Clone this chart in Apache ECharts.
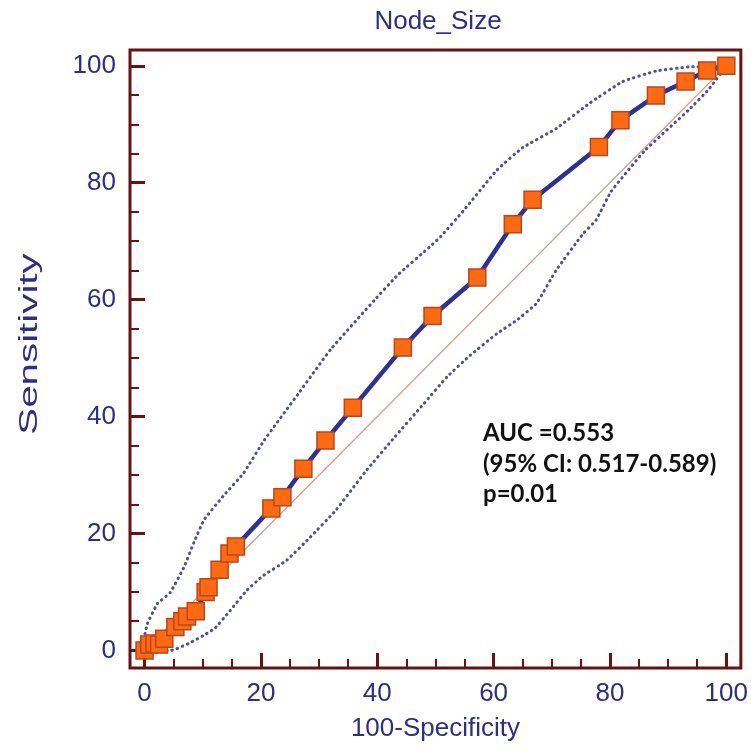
<!DOCTYPE html>
<html>
<head>
<meta charset="utf-8">
<script src="https://cdn.jsdelivr.net/npm/echarts@6/dist/echarts.min.js"></script>
<style>html,body{margin:0;padding:0;background:#fff;}#c{width:751px;height:751px;}</style>
</head>
<body>
<div id="c"></div>
<script>
// ROC curve points [100-Specificity, Sensitivity]
const rocPoints = [[0,0],[0.8,1.0],[1.7,1.2],[2.5,1.0],[3.4,2.0],[5.3,4.0],[6.5,5.0],[7.3,5.8],[8.8,6.7],[10.5,10.0],[11.0,10.8],[12.9,13.8],[14.6,16.6],[15.7,17.8],[21.8,24.3],[23.7,26.2],[27.3,31.1],[31.1,35.9],[35.8,41.5],[44.4,51.8],[49.5,57.2],[57.2,63.8],[63.3,72.9],[66.7,77.1],[78.1,86.1],[81.8,90.7],[87.9,94.9],[93.0,97.3],[96.7,99.2],[100,100]];
// Upper 95% confidence bound
const upperCI = [[0,0],[0,2.3],[0.5,4.6],[2.2,8.0],[4.4,9.9],[6.8,14.3],[8.5,18.5],[10.2,22.3],[13.6,26.5],[17.0,30.3],[20.6,36.0],[26.5,44.0],[32.0,51.5],[39.5,59.9],[43.5,64.2],[49.1,69.1],[50.9,70.8],[54.9,75.3],[60.6,82.2],[65.0,86.0],[70.8,89.3],[76.5,93.6],[82.2,97.3],[87.9,99.1],[93.5,99.8],[99.3,99.9],[100,100]];
// Lower 95% confidence bound
const lowerCI = [[0,0],[2.0,0],[4.5,0],[5.3,0.2],[7.8,1.3],[10.0,2.5],[12.1,3.8],[14.7,6.8],[17.6,10.3],[20.4,12.8],[24.4,15.4],[28.3,19.2],[32.9,24.0],[37.9,30.5],[43.0,36.5],[48.0,42.2],[52.0,46.8],[56.0,50.5],[60.6,54.2],[64.0,56.5],[67.4,59.4],[70.8,65.1],[75.4,71.3],[77.6,73.6],[80.2,78.5],[86.0,85.5],[93.6,92.5],[97.0,96.0],[100,100]];
// Reference diagonal
const diagonal = [[0,0],[100,100]];
// Tick values
const majorTicks = [0,20,40,60,80,100];
const minorTicks = [0,5,10,15,20,25,30,35,40,45,50,55,60,65,70,75,80,85,90,95,100];
const titleText = 'Node_Size';
const xName = '100-Specificity';
const yName = 'Sensitivity';
const annotation = ['AUC =0.553', '(95% CI: 0.517-0.589)', 'p=0.01'];

const frame = '#6a1212';
const navy = '#2c2f86';
const labelFont = 'Liberation Sans';

function mkAxis(isX, major) {
  const ax = {
    type: 'value',
    min: isX ? -2.5 : -3,
    max: isX ? 102.5 : 102.7,
    position: isX ? 'bottom' : 'left',
    splitLine: { show: false },
    axisLine: { show: false, onZero: false },
    axisTick: {
      show: true, inside: true,
      customValues: major ? majorTicks : minorTicks,
      length: major ? 15 : 9,
      lineStyle: { color: frame, width: major ? 3 : 2 }
    },
    axisLabel: major ? {
      show: true, customValues: majorTicks,
      color: navy, fontSize: 26, fontFamily: labelFont,
      margin: isX ? 13 : 14
    } : { show: false }
  };
  if (major && isX) {
    ax.name = xName;
    ax.nameLocation = 'middle';
    ax.nameGap = 48;
    ax.nameTextStyle = { color: navy, fontSize: 26, fontFamily: labelFont };
  }
  return ax;
}

const chart = echarts.init(document.getElementById('c'), null, { renderer: 'canvas' });
chart.setOption({
  animation: false,
  backgroundColor: '#ffffff',
  grid: { left: 130, right: 5, top: 50, bottom: 83, show: true, borderColor: frame, borderWidth: 3, backgroundColor: 'transparent' },
  xAxis: [mkAxis(true, true), mkAxis(true, false)],
  yAxis: [mkAxis(false, true), mkAxis(false, false)],
  graphic: [
    { type: 'text', x: 438, y: 22, style: { text: titleText, align: 'center', verticalAlign: 'middle', fill: navy, font: '26px "Liberation Sans"' } },
    { type: 'text', x: 30, y: 344, rotation: Math.PI / 2, scaleX: 1.55, style: { text: yName, align: 'center', verticalAlign: 'middle', fill: navy, font: '26px "Liberation Sans"' } },
    { type: 'text', x: 483, y: 433, style: { text: annotation[0], align: 'left', verticalAlign: 'middle', fill: '#111', font: 'bold 24px Lato' } },
    { type: 'text', x: 483, y: 464, style: { text: annotation[1], align: 'left', verticalAlign: 'middle', fill: '#111', font: 'bold 24px Lato' } },
    { type: 'text', x: 483, y: 494, style: { text: annotation[2], align: 'left', verticalAlign: 'middle', fill: '#111', font: 'bold 24px Lato' } }
  ],
  series: [
    { type: 'line', data: diagonal, symbol: 'none', lineStyle: { color: '#cf9f8c', width: 1.2 }, z: 1, silent: true },
    { type: 'line', data: upperCI, symbol: 'none', smooth: 0.12, lineStyle: { color: '#4b4f9e', width: 3, type: [0.5, 5], cap: 'round' }, z: 2 },
    { type: 'line', data: lowerCI, symbol: 'none', smooth: 0.12, lineStyle: { color: '#4b4f9e', width: 3, type: [0.5, 5], cap: 'round' }, z: 2 },
    { type: 'line', data: rocPoints, symbol: 'rect', symbolSize: 17, lineStyle: { color: '#2e3192', width: 4.5 },
      itemStyle: { color: '#ff6a10', borderColor: '#b8471c', borderWidth: 1.5 }, z: 3 }
  ]
});
</script>
</body>
</html>
